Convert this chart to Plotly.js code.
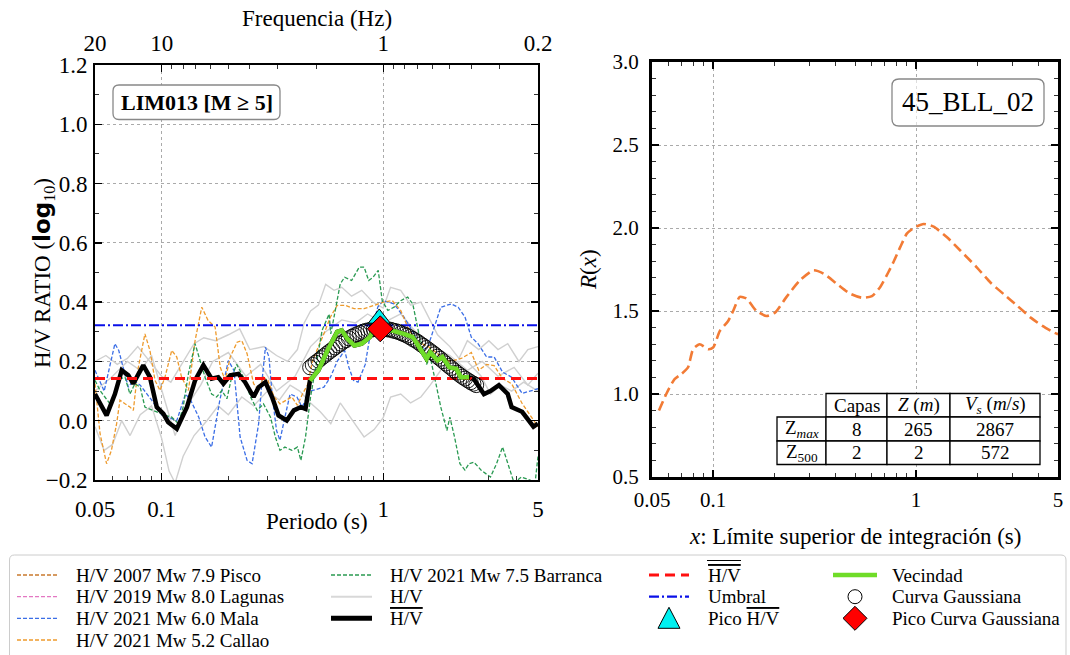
<!DOCTYPE html>
<html>
<head>
<meta charset="utf-8">
<script src="https://cdn.plot.ly/plotly-3.0.1.min.js"></script>
<style>
  html, body { margin: 0; padding: 0; background: #fff; }
  #chart { width: 1070px; height: 655px; }
</style>
</head>
<body>
<div id="chart"></div>
<script>
// ---------- H/V spectral ratios (log10) vs period (s) ----------
const periodPisco = [];
const hvPisco = [];
const periodLagunas = [];
const hvLagunas = [];

const periodMala = [0.05, 0.052, 0.055, 0.0615, 0.064, 0.0707, 0.0744, 0.08, 0.09, 0.1, 0.107, 0.117, 0.128, 0.135, 0.147, 0.157, 0.168, 0.183, 0.2, 0.212, 0.226, 0.243, 0.256, 0.274, 0.283, 0.294, 0.305, 0.316, 0.33, 0.342, 0.36, 0.38, 0.408, 0.43, 0.47, 0.54, 0.578, 0.62, 0.67, 0.70, 0.735, 0.77, 0.83, 0.87, 0.945, 1.0, 1.12, 1.24, 1.38, 1.48, 1.59, 1.70, 1.82, 2.03, 2.18, 2.34, 2.5, 2.68, 2.93, 3.17, 3.46, 3.8, 4.24, 5.0];
const hvMala = [0.17, 0.14, 0.10, 0.26, 0.237, 0.113, 0.136, 0.12, 0.07, 0.02, 0.012, 0.0, 0.09, 0.07, 0.012, -0.055, -0.089, 0.069, 0.203, 0.17, -0.055, -0.134, -0.145, -0.01, 0.125, 0.248, 0.215, 0.08, -0.033, -0.066, 0.012, 0.09, 0.08, 0.046, 0.10, 0.113, 0.147, 0.20, 0.237, 0.18, 0.136, 0.13, 0.19, 0.282, 0.383, 0.405, 0.394, 0.35, 0.293, 0.237, 0.248, 0.316, 0.383, 0.394, 0.383, 0.35, 0.282, 0.26, 0.215, 0.215, 0.164, 0.147, 0.092, 0.108];

const periodCallao = [0.05, 0.0527, 0.0564, 0.0593, 0.0626, 0.0648, 0.0683, 0.0719, 0.0745, 0.078, 0.084, 0.0885, 0.0933, 0.0983, 0.1035, 0.111, 0.117, 0.123, 0.132, 0.1415, 0.1517, 0.162, 0.1743, 0.1837, 0.1935, 0.204, 0.219, 0.23, 0.243, 0.26, 0.274, 0.288, 0.302, 0.322, 0.342, 0.367, 0.387, 0.41, 0.432, 0.455, 0.48, 0.54, 0.578, 0.62, 0.674, 0.74, 0.82, 0.91, 1.0, 1.1, 1.2, 1.29, 1.4, 1.6, 1.8, 2.0, 2.25, 2.5, 2.7, 2.93, 3.17, 3.46, 3.8, 4.24, 4.77, 5.0];
const hvCallao = [0.125, -0.044, -0.145, -0.10, -0.01, 0.069, 0.057, 0.046, 0.035, 0.17, 0.293, 0.237, 0.136, 0.102, 0.147, 0.237, 0.215, 0.147, 0.102, 0.27, 0.383, 0.338, 0.316, 0.181, 0.136, 0.215, 0.265, 0.27, 0.226, 0.125, 0.102, 0.147, 0.136, 0.08, 0.057, 0.069, 0.08, 0.052, 0.09, 0.12, 0.203, 0.293, 0.35, 0.389, 0.389, 0.378, 0.378, 0.389, 0.40, 0.405, 0.372, 0.316, 0.27, 0.25, 0.22, 0.2, 0.21, 0.23, 0.17, 0.19, 0.186, 0.142, 0.125, 0.058, 0.0, -0.02];

const periodBarranca = [0.05, 0.0527, 0.0554, 0.0584, 0.0615, 0.0648, 0.0683, 0.0719, 0.0757, 0.08, 0.084, 0.0885, 0.095, 0.1035, 0.111, 0.119, 0.125, 0.132, 0.1415, 0.149, 0.157, 0.168, 0.177, 0.187, 0.197, 0.207, 0.218, 0.234, 0.252, 0.27, 0.288, 0.31, 0.326, 0.342, 0.36, 0.387, 0.41, 0.425, 0.446, 0.47, 0.5, 0.53, 0.57, 0.58, 0.60, 0.64, 0.67, 0.72, 0.78, 0.82, 0.86, 0.90, 0.95, 0.99, 1.05, 1.12, 1.2, 1.29, 1.36, 1.45, 1.57, 1.63, 1.73, 1.82, 1.94, 2.0, 2.1, 2.22, 2.34, 2.44, 2.57, 2.77, 3.05, 3.25, 3.46, 3.65, 3.9, 4.2, 4.6, 4.85, 5.0];
const hvBarranca = [0.136, 0.102, 0.08, 0.057, 0.09, 0.141, 0.147, 0.09, 0.125, 0.113, 0.046, 0.04, 0.03, 0.018, 0.012, -0.01, 0.046, 0.158, 0.26, 0.203, 0.147, 0.09, 0.08, 0.102, 0.074, 0.147, 0.19, 0.147, 0.08, 0.035, 0.057, 0.012, -0.055, -0.10, -0.089, -0.10, -0.089, -0.134, -0.055, 0.08, 0.203, 0.305, 0.36, 0.293, 0.35, 0.462, 0.484, 0.473, 0.518, 0.518, 0.473, 0.484, 0.507, 0.405, 0.372, 0.383, 0.405, 0.417, 0.394, 0.293, 0.19, 0.215, 0.125, 0.046, -0.033, 0.012, -0.055, -0.145, -0.167, -0.145, -0.14, -0.167, -0.19, -0.145, -0.089, -0.145, -0.21, -0.19, -0.20, -0.21, -0.12];

// individual H/V records (grey)
const periodGrayA = [0.05, 0.056, 0.063, 0.07, 0.078, 0.088, 0.1, 0.11, 0.125, 0.14, 0.155, 0.175, 0.2, 0.225, 0.25, 0.29, 0.33, 0.37, 0.41, 0.44, 0.47, 0.51, 0.55, 0.6, 0.65, 0.72, 0.8, 0.9, 1.0, 1.08, 1.2, 1.33, 1.48, 1.6, 1.76, 2.0, 2.2, 2.4, 2.7, 3.0, 3.3, 3.65, 4.1, 4.5, 5.0];
const hvGrayA = [0.2, 0.22, 0.19, 0.21, 0.25, 0.2, 0.15, 0.13, 0.2, 0.26, 0.28, 0.27, 0.29, 0.31, 0.24, 0.25, 0.22, 0.2, 0.24, 0.33, 0.37, 0.39, 0.46, 0.44, 0.45, 0.42, 0.44, 0.40, 0.38, 0.45, 0.44, 0.39, 0.40, 0.35, 0.29, 0.25, 0.21, 0.27, 0.24, 0.27, 0.24, 0.26, 0.2, 0.24, 0.25];
const periodGrayB = [0.05, 0.055, 0.06, 0.066, 0.072, 0.08, 0.09, 0.1, 0.108, 0.115, 0.125, 0.14, 0.16, 0.18, 0.2, 0.23, 0.26, 0.3, 0.34, 0.38, 0.42, 0.47, 0.52, 0.58, 0.64, 0.71, 0.82, 0.91, 1.0, 1.08, 1.2, 1.33, 1.48, 1.63, 1.82, 2.03, 2.4, 2.77, 3.05, 3.4, 3.8, 4.3, 5.0];
const hvGrayB = [-0.02, -0.1, -0.08, 0.0, -0.05, 0.02, 0.05, -0.06, -0.17, -0.21, -0.12, -0.05, 0.0, 0.05, 0.02, 0.08, 0.05, 0.1, 0.07, 0.12, 0.1, 0.06, 0.03, -0.01, 0.06, 0.01, -0.055, -0.03, 0.01, 0.08, 0.09, 0.06, 0.08, 0.12, 0.17, 0.2, 0.2, 0.15, 0.09, 0.12, 0.1, 0.13, 0.1];
const periodGrayC = [0.05, 0.06, 0.07, 0.08, 0.09, 0.1, 0.115, 0.13, 0.15, 0.17, 0.2, 0.24, 0.28, 0.33, 0.4, 0.47, 0.55, 0.65, 0.75, 0.85, 1.0, 1.2, 1.4, 1.7, 2.0, 2.4, 2.8, 3.3, 3.9, 4.5, 5.0];
const hvGrayC = [0.1, 0.15, 0.2, 0.17, 0.22, 0.1, -0.05, 0.05, 0.12, 0.2, 0.23, 0.15, 0.19, 0.1, 0.15, 0.25, 0.3, 0.34, 0.33, 0.36, 0.33, 0.36, 0.3, 0.25, 0.22, 0.17, 0.2, 0.15, 0.18, 0.12, 0.16];

// mean H/V
const periodMean = [0.05, 0.0525, 0.0564, 0.0615, 0.066, 0.0707, 0.0744, 0.0826, 0.0885, 0.095, 0.1017, 0.107, 0.117, 0.130, 0.1415, 0.1543, 0.168, 0.180, 0.190, 0.204, 0.222, 0.238, 0.26, 0.274, 0.294, 0.315, 0.337, 0.367, 0.395, 0.425, 0.446, 0.467, 0.51, 0.56, 0.62, 0.65, 0.69, 0.74, 0.80, 0.87, 0.96, 1.03, 1.12, 1.24, 1.36, 1.48, 1.57, 1.63, 1.76, 1.85, 1.99, 2.14, 2.24, 2.44, 2.57, 2.85, 3.05, 3.33, 3.65, 3.8, 4.24, 4.77, 5.0];
const hvMean = [0.09, 0.06, 0.018, 0.09, 0.17, 0.153, 0.125, 0.187, 0.147, 0.046, 0.024, -0.005, -0.027, 0.046, 0.136, 0.187, 0.142, 0.147, 0.125, 0.153, 0.158, 0.13, 0.08, 0.113, 0.13, 0.08, 0.018, 0.001, 0.035, 0.046, 0.04, 0.135, 0.17, 0.237, 0.30, 0.305, 0.276, 0.254, 0.26, 0.282, 0.345, 0.31, 0.304, 0.293, 0.282, 0.237, 0.209, 0.231, 0.203, 0.215, 0.18, 0.175, 0.147, 0.147, 0.14, 0.09, 0.10, 0.12, 0.09, 0.046, 0.03, -0.02, -0.01];

// neighbourhood of the peak used for the fit (s)
const vecindadMin = 0.467;
const vecindadMax = 2.44;

// fitted Gaussian curve
const periodGauss = [0.468, 0.481, 0.495, 0.510, 0.525, 0.540, 0.556, 0.572, 0.589, 0.606, 0.624, 0.643, 0.661, 0.681, 0.700, 0.721, 0.741, 0.764, 0.785, 0.809, 0.832, 0.857, 0.881, 0.907, 0.933, 0.961, 0.989, 1.017, 1.047, 1.078, 1.109, 1.142, 1.175, 1.209, 1.245, 1.281, 1.318, 1.357, 1.396, 1.437, 1.479, 1.522, 1.567, 1.613, 1.660, 1.708, 1.758, 1.809, 1.862, 1.917, 1.972, 2.030, 2.089, 2.150, 2.213, 2.278, 2.344, 2.413, 2.483, 2.556, 2.630];
const hvGauss = [0.180, 0.188, 0.196, 0.203, 0.211, 0.218, 0.226, 0.233, 0.240, 0.247, 0.254, 0.260, 0.267, 0.272, 0.278, 0.283, 0.288, 0.292, 0.296, 0.300, 0.303, 0.305, 0.307, 0.309, 0.310, 0.310, 0.310, 0.309, 0.308, 0.307, 0.304, 0.302, 0.299, 0.295, 0.291, 0.287, 0.282, 0.276, 0.271, 0.265, 0.258, 0.252, 0.245, 0.238, 0.231, 0.224, 0.216, 0.209, 0.201, 0.193, 0.185, 0.178, 0.170, 0.162, 0.155, 0.148, 0.142, 0.136, 0.130, 0.125, 0.120];

// reference levels and peaks
const meanOfMeans = 0.142;
const umbral = 0.322;
const peakHV = { period: 0.96, value: 0.345 };
const peakGauss = { period: 0.97, value: 0.31 };

// ---------- R(x) ----------
const periodR = [0.0541, 0.0588, 0.0646, 0.0697, 0.0752, 0.0797, 0.0859, 0.0945, 0.1, 0.108, 0.1186, 0.1255, 0.1354, 0.146, 0.1637, 0.1834, 0.2016, 0.230, 0.268, 0.312, 0.35, 0.406, 0.472, 0.54, 0.606, 0.666, 0.731, 0.777, 0.836, 0.90, 0.973, 1.09, 1.22, 1.42, 1.655, 2.0, 2.33, 2.71, 3.16, 3.67, 4.19, 4.78, 5.0];
const rValues = [0.90, 1.0, 1.09, 1.12, 1.16, 1.27, 1.30, 1.27, 1.28, 1.38, 1.44, 1.50, 1.585, 1.575, 1.50, 1.47, 1.49, 1.585, 1.685, 1.745, 1.725, 1.665, 1.605, 1.58, 1.59, 1.645, 1.735, 1.80, 1.886, 1.966, 2.0, 2.024, 2.008, 1.944, 1.863, 1.76, 1.67, 1.60, 1.53, 1.46, 1.41, 1.37, 1.36];

// table of layers
const tableHeader = ['Capas', '<i>Z</i> (<i>m</i>)', '<i>V<sub>s</sub></i> (<i>m</i>/<i>s</i>)'];
const tableRowLabels = ['Z<sub><i>max</i></sub>', 'Z<sub>500</sub>'];
const tableCapas = [8, 2];
const tableZ = [265, 2];
const tableVs = [2867, 572];

// ticks
const periodTicks = [0.05, 0.1, 1, 5];
const periodTickText = ['0.05', '0.1', '1', '5'];
const periodMinor = [0.06, 0.07, 0.08, 0.09, 0.2, 0.3, 0.4, 0.5, 0.6, 0.7, 0.8, 0.9, 2, 3, 4];
const freqTicks = [20, 10, 1, 0.2];
const freqTickText = ['20', '10', '1', '0.2'];
const freqMinor = [9, 8, 7, 6, 5, 4, 3, 2, 0.9, 0.8, 0.7, 0.6, 0.5, 0.4, 0.3];

const stationLabel = 'LIM013 [M ≥ 5]';
const siteLabel = '45_BLL_02';

// ---------- layout helpers ----------
const W = 1070, H = 655;
const FONT = 'Liberation Serif, DejaVu Serif, serif';
const fx = v => v / W;
const fy = v => 1 - v / H;
const LEFT = { x0: 95, x1: 538, y0: 65, y1: 480 };
const RIGHT = { x0: 652, x1: 1058, y0: 62, y1: 477 };
const lg = Math.log10;

function roundRect(x0, y0, x1, y1, r) {
  const X = v => fx(v).toFixed(5), Y = v => fy(v).toFixed(5);
  return `M${X(x0 + r)},${Y(y0)} L${X(x1 - r)},${Y(y0)} Q${X(x1)},${Y(y0)} ${X(x1)},${Y(y0 + r)} ` +
         `L${X(x1)},${Y(y1 - r)} Q${X(x1)},${Y(y1)} ${X(x1 - r)},${Y(y1)} ` +
         `L${X(x0 + r)},${Y(y1)} Q${X(x0)},${Y(y1)} ${X(x0)},${Y(y1 - r)} ` +
         `L${X(x0)},${Y(y0 + r)} Q${X(x0)},${Y(y0)} ${X(x0 + r)},${Y(y0)} Z`;
}
const pathOf = pts => 'M' + pts.map(p => fx(p[0]).toFixed(5) + ',' + fy(p[1]).toFixed(5)).join(' L') + ' Z';

const OV = s => `<span style="text-decoration:overline">${s}</span>`;
const thin = color => ({ color, width: 1.3, dash: '4px,2px' });

// trace styles (shared with the legend)
const st = {
  pisco: thin('#c97a2e'), lagunas: thin('#e377c2'), mala: thin('#3b6ee6'),
  callao: thin('#ee9a2c'), barranca: thin('#2a9a52'),
  gray: { color: '#d0d0d0', width: 1.4 },
  mean: { color: '#000', width: 4.5 },
  red: { color: '#ff1010', width: 3, dash: '10px,6px' },
  blue: { color: '#0a10e8', width: 2.2, dash: '10px,3px,2px,3px' },
  green: { color: '#6fdc28', width: 4.5 }
};

// ---------- traces ----------
const inVec = periodMean.map(t => t >= vecindadMin && t <= vecindadMax);
const traces = [
  { x: periodGrayA, y: hvGrayA, mode: 'lines', line: st.gray },
  { x: periodGrayB, y: hvGrayB, mode: 'lines', line: st.gray },
  { x: periodGrayC, y: hvGrayC, mode: 'lines', line: st.gray },
  { x: periodPisco, y: hvPisco, mode: 'lines', line: st.pisco },
  { x: periodLagunas, y: hvLagunas, mode: 'lines', line: st.lagunas },
  { x: periodMala, y: hvMala, mode: 'lines', line: st.mala },
  { x: periodCallao, y: hvCallao, mode: 'lines', line: st.callao },
  { x: periodBarranca, y: hvBarranca, mode: 'lines', line: st.barranca },
  { x: periodMean, y: hvMean, mode: 'lines', line: st.mean },
  { x: [periodTicks[0], periodTicks[3]], y: [meanOfMeans, meanOfMeans], mode: 'lines', line: st.red },
  { x: [periodTicks[0], periodTicks[3]], y: [umbral, umbral], mode: 'lines', line: st.blue },
  { x: periodGauss, y: hvGauss, mode: 'markers', marker: { symbol: 'circle-open', size: 15, color: '#000', line: { width: 0.9 } } },
  { x: periodMean.filter((t, i) => inVec[i]), y: hvMean.filter((v, i) => inVec[i]), mode: 'lines', line: st.green },
  { x: [peakHV.period], y: [peakHV.value], mode: 'markers', marker: { symbol: 'triangle-up', size: 19, color: '#00f0f0', line: { color: '#000', width: 1 } } },
  { x: [peakGauss.period], y: [peakGauss.value], mode: 'markers', marker: { symbol: 'diamond', size: 20, color: '#ff0000', line: { color: '#000', width: 1 } } },
  // frequency axis carrier (no visible marks)
  { x: freqTicks, y: freqTicks.map(() => null), xaxis: 'x2', yaxis: 'y', mode: 'markers', hoverinfo: 'skip' },
  { x: periodR, y: rValues, xaxis: 'x3', yaxis: 'y2', mode: 'lines', line: { color: '#f27b35', width: 2.6, dash: '10px,5px', shape: 'spline', smoothing: 0.6 } }
];

// ---------- axes ----------
const tickFontL = { family: FONT, size: 23, color: '#000' };
const tickFontR = { family: FONT, size: 21, color: '#000' };
const gridStyle = { showgrid: true, gridcolor: '#aaaaaa', griddash: 'dot', gridwidth: 1 };
const major = { ticks: 'inside', ticklen: 7, tickwidth: 1.3, tickcolor: '#000' };
const minorLog = vals => ({ tickmode: 'array', tickvals: vals, ticks: 'inside', ticklen: 4, tickwidth: 1, tickcolor: '#333' });
const minorLin = d => ({ dtick: d, ticks: 'inside', ticklen: 4, tickwidth: 1, tickcolor: '#333' });

const xaxis = Object.assign({
  domain: [fx(LEFT.x0), fx(LEFT.x1)], anchor: 'y', type: 'log', range: [lg(0.05), lg(5)],
  tickmode: 'array', tickvals: periodTicks, ticktext: periodTickText,
  showline: true, linewidth: 2, linecolor: '#000', mirror: false, zeroline: false,
  minor: minorLog(periodMinor), tickfont: tickFontL, ticklabelstandoff: 7
}, major, gridStyle);

const xaxis2 = Object.assign({
  overlaying: 'x', anchor: 'y', side: 'top', type: 'log', range: [lg(20), lg(0.2)],
  tickmode: 'array', tickvals: freqTicks, ticktext: freqTickText,
  showline: true, linewidth: 2, linecolor: '#000', showgrid: false, zeroline: false,
  minor: minorLog(freqMinor), tickfont: tickFontL, ticklabelstandoff: 3
}, major);

const yaxis = Object.assign({
  domain: [fy(LEFT.y1), fy(LEFT.y0)], anchor: 'x', range: [-0.2, 1.2],
  tickmode: 'linear', tick0: 0, dtick: 0.2, tickformat: '.1f',
  showline: true, linewidth: 2, linecolor: '#000', mirror: 'ticks', zeroline: false,
  minor: minorLin(0.1), tickfont: tickFontL, ticklabelstandoff: 1
}, major, gridStyle);

const xaxis3 = Object.assign({
  domain: [fx(RIGHT.x0), fx(RIGHT.x1)], anchor: 'y2', type: 'log', range: [lg(0.05), lg(5)],
  tickmode: 'array', tickvals: periodTicks, ticktext: periodTickText,
  showline: true, linewidth: 3, linecolor: '#000', mirror: 'ticks', zeroline: false,
  minor: minorLog(periodMinor), tickfont: tickFontR, ticklabelstandoff: 2
}, major, gridStyle);

const yaxis2 = Object.assign({
  domain: [fy(RIGHT.y1), fy(RIGHT.y0)], anchor: 'x3', range: [0.5, 3.0],
  tickmode: 'linear', tick0: 0.5, dtick: 0.5, tickformat: '.1f',
  showline: true, linewidth: 3, linecolor: '#000', mirror: 'ticks', zeroline: false,
  minor: minorLin(0.1), tickfont: tickFontR, ticklabelstandoff: 6
}, major, gridStyle);

// ---------- shapes and annotations ----------
const shapes = [];
const annotations = [];
const label = (x, y, text, size, extra) => annotations.push(Object.assign({
  xref: 'paper', yref: 'paper', x: fx(x), y: fy(y), xanchor: 'center', yanchor: 'middle',
  text, showarrow: false, font: { family: FONT, size, color: '#000' }
}, extra || {}));

// axis titles
label(316.5, 521.5, 'Periodo (s)', 23);
label(316.5, 18.5, 'Frequencia (Hz)', 23);
label(43, 273, 'H/V RATIO (<span style="font-family:\'DejaVu Sans\';font-weight:bold">log</span><sub>10</sub>)', 23, { textangle: -90 });
label(855, 536, '<i>x</i>: Límite superior de integración (s)', 23);
label(588, 270, '<i>R</i>(<i>x</i>)', 23, { textangle: -90 });

// station label box
shapes.push({ type: 'path', xref: 'paper', yref: 'paper', path: roundRect(113, 85, 280, 119.5, 6),
  line: { color: '#888888', width: 1.3 }, fillcolor: '#ffffff', layer: 'above' });
label(196.5, 102.5, '<b>' + stationLabel + '</b>', 22);

// site label box
shapes.push({ type: 'path', xref: 'paper', yref: 'paper', path: roundRect(892, 79, 1044, 126, 7),
  line: { color: '#888888', width: 1.3 }, fillcolor: 'rgba(255,255,255,0.6)', layer: 'above' });
label(968, 102.5, siteLabel, 27);

// layer table
const colEdges = [777, 826, 887, 950, 1040];
const rowEdges = [393.5, 417, 441, 464.5];
function cell(c, r, text) {
  shapes.push({ type: 'rect', xref: 'paper', yref: 'paper',
    x0: fx(colEdges[c]), x1: fx(colEdges[c + 1]), y0: fy(rowEdges[r + 1]), y1: fy(rowEdges[r]),
    line: { color: '#000', width: 1.3 }, fillcolor: '#ffffff', layer: 'above' });
  label((colEdges[c] + colEdges[c + 1]) / 2, (rowEdges[r] + rowEdges[r + 1]) / 2, String(text), 19);
}
tableHeader.forEach((h, i) => cell(i + 1, 0, h));
tableRowLabels.forEach((lab, r) => {
  cell(0, r + 1, lab);
  cell(1, r + 1, tableCapas[r]);
  cell(2, r + 1, tableZ[r]);
  cell(3, r + 1, tableVs[r]);
});

// ---------- legend (four columns, drawn below the panels) ----------
shapes.push({ type: 'path', xref: 'paper', yref: 'paper', path: roundRect(9.5, 555, 1066, 690, 5),
  line: { color: '#cccccc', width: 1 }, fillcolor: '#ffffff', layer: 'below' });

const legendRows = [575, 596.7, 618.3, 640];
const legendCols = [
  { x0: 17, x1: 57, tx: 74 },
  { x0: 331, x1: 372, tx: 388 },
  { x0: 649, x1: 689, tx: 706 },
  { x0: 833, x1: 877, tx: 890 }
];
const legendItems = [
  { c: 0, r: 0, line: st.pisco, text: 'H/V 2007 Mw 7.9 Pisco' },
  { c: 0, r: 1, line: st.lagunas, text: 'H/V 2019 Mw 8.0 Lagunas' },
  { c: 0, r: 2, line: st.mala, text: 'H/V 2021 Mw 6.0 Mala' },
  { c: 0, r: 3, line: st.callao, text: 'H/V 2021 Mw 5.2 Callao' },
  { c: 1, r: 0, line: st.barranca, text: 'H/V 2021 Mw 7.5 Barranca' },
  { c: 1, r: 1, line: { color: '#d8d8d8', width: 2 }, text: 'H/V' },
  { c: 1, r: 2, line: { color: '#000', width: 5 }, text: OV('H/V') },
  { c: 2, r: 0, line: st.red, text: OV('H/V'), double: true },
  { c: 2, r: 1, line: st.blue, text: 'Umbral' },
  { c: 2, r: 2, marker: 'triangle', text: 'Pico ' + OV('H/V') },
  { c: 3, r: 0, line: st.green, text: 'Vecindad' },
  { c: 3, r: 1, marker: 'circle', text: 'Curva Gaussiana' },
  { c: 3, r: 2, marker: 'diamond', text: 'Pico Curva Gaussiana' }
];
legendItems.forEach(it => {
  const col = legendCols[it.c], y = legendRows[it.r];
  const cx = (col.x0 + col.x1) / 2;
  if (it.line) {
    shapes.push({ type: 'line', xref: 'paper', yref: 'paper', x0: fx(col.x0), x1: fx(col.x1), y0: fy(y), y1: fy(y),
      line: { color: it.line.color, width: it.line.width, dash: it.line.dash || 'solid' } });
  } else if (it.marker === 'circle') {
    shapes.push({ type: 'circle', xref: 'paper', yref: 'paper', x0: fx(cx - 7), x1: fx(cx + 7), y0: fy(y + 7), y1: fy(y - 7),
      line: { color: '#000', width: 1 }, fillcolor: '#fff' });
  } else if (it.marker === 'triangle') {
    shapes.push({ type: 'path', xref: 'paper', yref: 'paper', path: pathOf([[cx, y - 11], [cx + 11, y + 10], [cx - 11, y + 10]]),
      line: { color: '#000', width: 1 }, fillcolor: '#00f0f0' });
  } else if (it.marker === 'diamond') {
    shapes.push({ type: 'path', xref: 'paper', yref: 'paper', path: pathOf([[cx, y - 12], [cx + 12, y], [cx, y + 12], [cx - 12, y]]),
      line: { color: '#000', width: 1 }, fillcolor: '#ff0000' });
  }
  label(col.tx, y, it.text, 19, { xanchor: 'left' });
  if (it.double) {
    shapes.push({ type: 'line', xref: 'paper', yref: 'paper', x0: fx(col.tx + 1), x1: fx(col.tx + 35),
      y0: fy(y - 14.5), y1: fy(y - 14.5), line: { color: '#000', width: 1.2 } });
  }
});

const layout = {
  width: W, height: H,
  margin: { l: 0, r: 0, t: 0, b: 0 },
  paper_bgcolor: '#fff', plot_bgcolor: '#fff',
  font: { family: FONT, color: '#000' },
  showlegend: false,
  xaxis, xaxis2, yaxis, xaxis3, yaxis2,
  shapes, annotations
};

Plotly.newPlot('chart', traces, layout, { displayModeBar: false, staticPlot: true });
</script>
</body>
</html>
